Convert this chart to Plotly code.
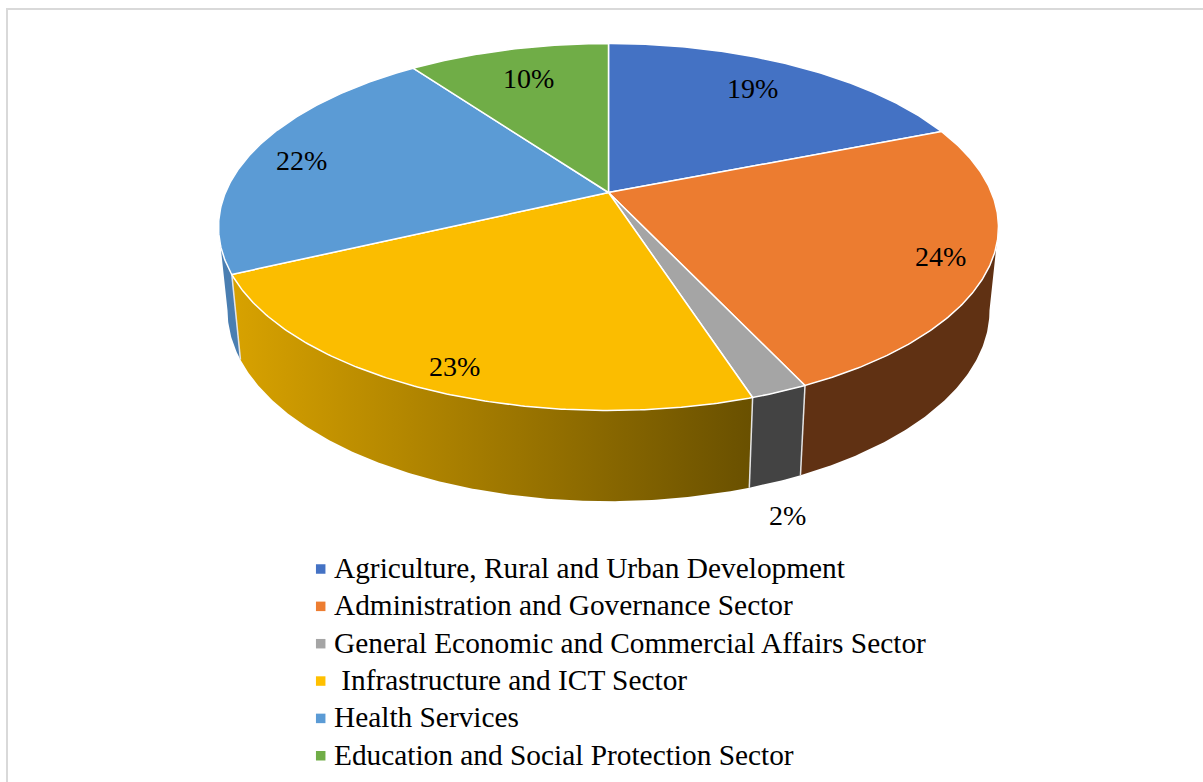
import numpy as np
import plotly.graph_objects as go

# Budget shares by sector, in percent
categories = [
    "Agriculture, Rural and Urban Development",
    "Administration and Governance Sector",
    "General Economic and Commercial Affairs Sector",
    "\u00a0Infrastructure and ICT Sector",
    "Health Services",
    "Education and Social Protection Sector",
]
values = [19, 24, 2, 23, 22, 10]

top_colors = ["#4472C4", "#EC7C30", "#A5A5A5", "#FBBD00", "#5B9BD5", "#70AD47"]
legend_colors = ["#4472C4", "#ED7D31", "#A5A5A5", "#FFC000", "#5B9BD5", "#70AD47"]
side_colors = {1: "#603113", 2: "#434343", 4: "#4A7EB1"}
side_gradient = {3: ["#D8A200", "#695000"]}

# Where each percentage label sits on the canvas
label_x = [752, 940, 787, 454, 301, 528]
label_y = [88, 256, 515, 366, 160, 78]

# Perspective model of the disc: apex of the pie, half axes and foreshortening
CX, CY = 608.5, 192.5
AX, AY = 383.0, 177.0
K = 0.188
# The lower rim is slightly narrower and sits lower on the canvas
RIM_SCALE_X, RIM_SCALE_Y, RIM_DROP = 0.977, 1.04, 82.0


def project_top(t):
    u, v = np.sin(t), np.cos(t)
    w = 1 + K * v
    return CX + AX * u / w, CY - AY * v / w


def project_rim(t):
    x, y = project_top(t)
    return CX + RIM_SCALE_X * (x - CX), CY + RIM_DROP + RIM_SCALE_Y * (y - CY)


def sweep(a, b):
    n = max(2, int(abs(b - a) / np.radians(0.5)))
    return np.linspace(a, b, n)


fractions = np.cumsum([0] + values) / sum(values)
angles = 2 * np.pi * fractions

# The wall is only visible between the two silhouette tangents
tan_a = np.arccos(-K)
tan_b = 2 * np.pi - tan_a

fig = go.Figure()

# Outer wall of each visible slice
for i in range(len(values)):
    a, b = max(angles[i], tan_a), min(angles[i + 1], tan_b)
    if b <= a:
        continue
    t = sweep(a, b)
    xt, yt = project_top(t)
    xr, yr = project_rim(t[::-1])
    style = dict(mode="lines", line=dict(width=0), fill="toself",
                 hoverinfo="skip", showlegend=False)
    if i in side_gradient:
        c0, c1 = side_gradient[i]
        style["fillgradient"] = dict(type="horizontal", colorscale=[[0, c0], [1, c1]])
    else:
        style["fillcolor"] = side_colors[i]
    fig.add_trace(go.Scatter(x=np.r_[xt, xr, xt[0]], y=np.r_[yt, yr, yt[0]], **style))

# Light seams where neighbouring walls meet
for edge in angles[1:]:
    if tan_a < edge < tan_b:
        x0, y0 = project_top(edge)
        x1, y1 = project_rim(edge)
        fig.add_trace(go.Scatter(x=[x0, x1], y=[y0, y1], mode="lines",
                                 line=dict(color="#E4E4E4", width=1.5),
                                 hoverinfo="skip", showlegend=False))

# Top face of the pie
for i, name in enumerate(categories):
    t = sweep(angles[i], angles[i + 1])
    xt, yt = project_top(t)
    fig.add_trace(go.Scatter(
        x=np.r_[CX, xt, CX], y=np.r_[CY, yt, CY], mode="lines", name=name.strip(),
        line=dict(color="white", width=1.5), fill="toself",
        fillcolor=top_colors[i], hoverinfo="skip", showlegend=False,
    ))

# Legend swatches and entries, laid out by hand for tight spacing
LEGEND_X, LEGEND_TEXT_X, LEGEND_Y0, LEGEND_STEP = 320.7, 332.0, 568.0, 37.35
legend_y = [LEGEND_Y0 + LEGEND_STEP * i for i in range(len(categories))]
fig.add_trace(go.Scatter(
    x=[LEGEND_X] * len(categories), y=[y + 1 for y in legend_y], mode="markers",
    marker=dict(symbol="square", size=9.5, color=legend_colors, line=dict(width=0)),
    hoverinfo="skip", showlegend=False,
))

serif = "Liberation Serif"
annotations = [
    dict(x=x, y=y, text=f"{v}%", showarrow=False, xanchor="center", yanchor="middle",
         font=dict(family=serif, size=28, color="black"))
    for v, x, y in zip(values, label_x, label_y)
]
annotations += [
    dict(x=LEGEND_TEXT_X, y=y, text=name, showarrow=False, xanchor="left", yanchor="middle",
         font=dict(family=serif, size=29.35, color="black"))
    for name, y in zip(categories, legend_y)
]

fig.update_layout(
    width=1203, height=782, margin=dict(l=0, r=0, t=0, b=0),
    paper_bgcolor="white", plot_bgcolor="white", showlegend=False,
    xaxis=dict(range=[0, 1203], visible=False, fixedrange=True),
    yaxis=dict(range=[782, 0], visible=False, fixedrange=True),
    annotations=annotations,
    # Chart-area frame, open on the right and at the bottom
    shapes=[dict(type="path", path="M 7 782 L 7 9 L 1203 9", xref="x", yref="y",
                 line=dict(color="#D9D9D9", width=2))],
)

fig.write_html("out.html", config=dict(displayModeBar=False))
